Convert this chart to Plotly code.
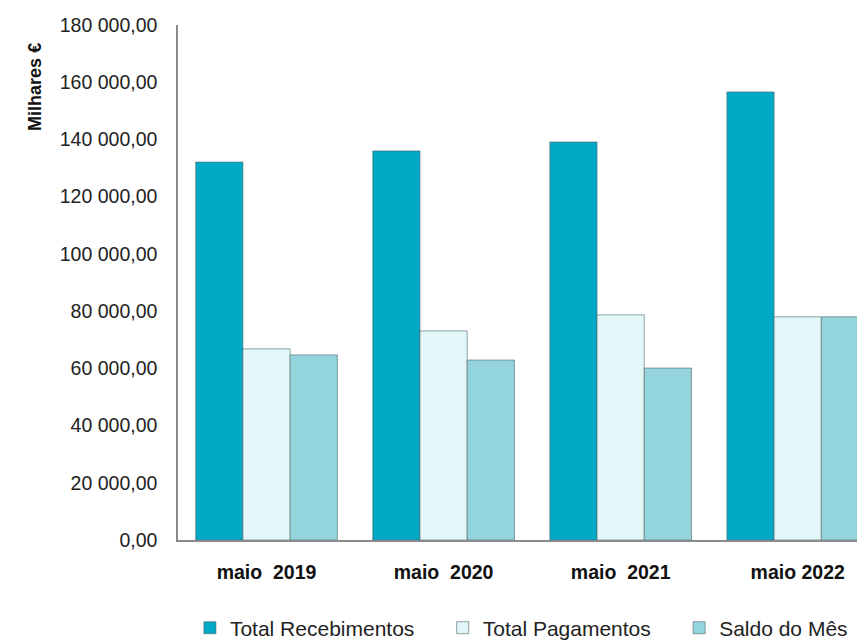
import plotly.graph_objects as go

categories = ["maio\u00a0\u00a02019", "maio\u00a0\u00a02020", "maio\u00a0\u00a02021", "maio 2022"]
recebimentos = [132100, 136000, 139100, 156600]
pagamentos = [66800, 73100, 78700, 78000]
saldo = [64700, 62900, 60100, 78000]
series_names = ["Total Recebimentos", "Total Pagamentos", "Saldo do Mês"]

colors = ["#00A9C6", "#E3F7F9", "#93D4DD"]
legend_pad = [4, 4, 0]  # trailing non-breaking spaces to mimic legend spacing

fig = go.Figure()
for name, vals, col, pad in zip(series_names, [recebimentos, pagamentos, saldo], colors, legend_pad):
    fig.add_trace(go.Bar(
        x=categories, y=vals, name=name + "\u00a0" * pad,
        marker=dict(color=col, line=dict(color="rgba(80,100,105,0.6)", width=1)),
    ))

fig.update_layout(
    width=857, height=632,
    margin=dict(l=170, r=0, t=17, b=100, autoexpand=False),
    paper_bgcolor="white", plot_bgcolor="white",
    barmode="group", bargap=0.2, bargroupgap=0,
    separators=", ",
    font=dict(family="Liberation Sans, Arial", color="#222"),
    showlegend=True,
    legend=dict(orientation="h", x=-0.0001, xanchor="left", y=-0.171, yanchor="middle",
                font=dict(size=21, color="#222"),
                borderwidth=12, bordercolor="rgba(0,0,0,0)", bgcolor="rgba(0,0,0,0)"),
    xaxis=dict(range=[-0.5, 3.38], showline=True, linecolor="#8a8a8a", linewidth=1.5,
               ticks="", tickfont=dict(size=19.5, color="#111", weight="bold"),
               ticklabelstandoff=14, showgrid=False),
    yaxis=dict(range=[0, 180000], tickvals=list(range(0, 180001, 20000)), tickformat=",.2f",
               showline=True, linecolor="#8a8a8a", linewidth=1.5, showgrid=False, zeroline=False,
               ticks="", tickfont=dict(size=19.5, color="#222"), ticklabelstandoff=15),
    annotations=[dict(text="<b>Milhares €</b>", xref="paper", yref="paper",
                      x=-0.208, y=0.88, xanchor="center", yanchor="middle",
                      textangle=-90, showarrow=False, font=dict(size=18, color="#111"))],
)

fig.write_html("out.html")
